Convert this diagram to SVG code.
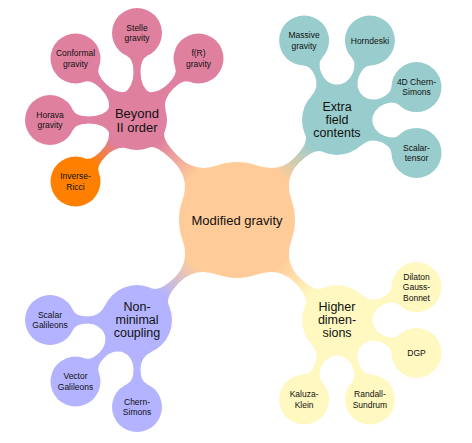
<svg xmlns="http://www.w3.org/2000/svg" xmlns:xlink="http://www.w3.org/1999/xlink" width="472" height="443" viewBox="0 0 472 443">
<style>
.t{font-family:"Liberation Sans",Arial,sans-serif;fill:#111;text-anchor:middle}
.t0{font-size:13px}
.t1{font-size:13px}
.t3{font-size:12.5px}
.t2{font-size:8.5px}
.pk{fill:#DF809F}
.or{fill:#FF8000}
.tl{fill:#99CCCC}
.bl{fill:#B3B3FF}
.yl{fill:#FFF8C0}
.ce{fill:#FFCC99}
</style>
<defs>
<path id="cb30" d="M 26.53,-14 Q 32.07,-3.5 48,-3.5 Q 61.25,-3.5 64.09,-10 L 64.09,10 Q 61.25,3.5 48,3.5 Q 32.07,3.5 26.53,14 Z"/>
<path id="cb35" d="M 31.62,-15 Q 37.08,-3.5 49,-3.5 Q 60.25,-3.5 63.09,-10 L 63.09,10 Q 60.25,3.5 49,3.5 Q 37.08,3.5 31.62,15 Z"/>
<path id="cb35b" d="M 31.62,-15 Q 37.08,-3.5 49.5,-3.5 Q 61.25,-3.5 64.09,-10 L 64.09,10 Q 61.25,3.5 49.5,3.5 Q 37.08,3.5 31.62,15 Z"/>
<path id="cm30" d="M 52.33,-25 Q 62.6,-3.5 86,-3.5 Q 110.55,-3.5 113.51,-11 L 113.51,11 Q 110.55,3.5 86,3.5 Q 62.6,3.5 52.33,25 Z"/>
<path id="cm35" d="M 52.33,-25 Q 62.6,-3.5 84,-3.5 Q 105.44,-3.5 108.54,-12 L 108.54,12 Q 105.44,3.5 84,3.5 Q 62.6,3.5 52.33,25 Z"/>
<linearGradient id="gB" gradientUnits="userSpaceOnUse" x1="62" y1="0" x2="110" y2="0"><stop offset="0" stop-color="#FFCC99"/><stop offset="1" stop-color="#DF809F"/></linearGradient>
<linearGradient id="gE" gradientUnits="userSpaceOnUse" x1="62" y1="0" x2="106" y2="0"><stop offset="0" stop-color="#FFCC99"/><stop offset="1" stop-color="#99CCCC"/></linearGradient>
<linearGradient id="gN" gradientUnits="userSpaceOnUse" x1="62" y1="0" x2="106" y2="0"><stop offset="0" stop-color="#FFCC99"/><stop offset="1" stop-color="#B3B3FF"/></linearGradient>
<linearGradient id="gH" gradientUnits="userSpaceOnUse" x1="62" y1="0" x2="106" y2="0"><stop offset="0" stop-color="#FFCC99"/><stop offset="1" stop-color="#FFF8C0"/></linearGradient>
<linearGradient id="gIR" gradientUnits="userSpaceOnUse" x1="32" y1="0" x2="62" y2="0"><stop offset="0" stop-color="#DF809F"/><stop offset="1" stop-color="#FF8000"/></linearGradient>
</defs>

<g id="connectors">
<use xlink:href="#cm30" transform="translate(237,220) rotate(-135)" fill="url(#gB)"/>
<use xlink:href="#cm35" transform="translate(237,220) rotate(-45)" fill="url(#gE)"/>
<use xlink:href="#cm35" transform="translate(237,220) rotate(135)" fill="url(#gN)"/>
<use xlink:href="#cm35" transform="translate(237,220) rotate(45)" fill="url(#gH)"/>
<use xlink:href="#cb30" transform="translate(137,120) rotate(180)" fill="#DF809F"/>
<use xlink:href="#cb30" transform="translate(137,120) rotate(-135)" fill="#DF809F"/>
<use xlink:href="#cb30" transform="translate(137,120) rotate(-90)" fill="#DF809F"/>
<use xlink:href="#cb30" transform="translate(137,120) rotate(-45)" fill="#DF809F"/>
<use xlink:href="#cb30" transform="translate(137,120) rotate(135)" fill="url(#gIR)"/>
<use xlink:href="#cb35" transform="translate(337,120) rotate(-112.5)" fill="#99CCCC"/>
<use xlink:href="#cb35" transform="translate(337,120) rotate(-67.5)" fill="#99CCCC"/>
<use xlink:href="#cb35" transform="translate(337,120) rotate(-22.5)" fill="#99CCCC"/>
<use xlink:href="#cb35" transform="translate(337,120) rotate(22.5)" fill="#99CCCC"/>
<use xlink:href="#cb35b" transform="translate(137,320) rotate(180)" fill="#B3B3FF"/>
<use xlink:href="#cb35b" transform="translate(137,320) rotate(135)" fill="#B3B3FF"/>
<use xlink:href="#cb35b" transform="translate(137,320) rotate(90)" fill="#B3B3FF"/>
<use xlink:href="#cb35" transform="translate(337,320) rotate(-22.5)" fill="#FFF8C0"/>
<use xlink:href="#cb35" transform="translate(337,320) rotate(22.5)" fill="#FFF8C0"/>
<use xlink:href="#cb35" transform="translate(337,320) rotate(112.5)" fill="#FFF8C0"/>
<use xlink:href="#cb35" transform="translate(337,320) rotate(67.5)" fill="#FFF8C0"/>
</g>

<g id="modified-gravity"><circle class="ce" cx="237" cy="220" r="58"/><text class="t t0" x="237" y="224.5">Modified gravity</text></g>

<g id="beyond-ii-order"><circle class="pk" cx="137" cy="120" r="30"/><text class="t t1" x="137" y="118">Beyond</text><text class="t t1" x="137" y="132">II order</text></g>
<g id="horava"><circle class="pk" cx="50" cy="120" r="25"/><text class="t t2" x="50" y="117.7">Horava</text><text class="t t2" x="50" y="128">gravity</text></g>
<g id="conformal"><circle class="pk" cx="75.5" cy="58.5" r="25"/><text class="t t2" x="75.5" y="56.2">Conformal</text><text class="t t2" x="75.5" y="66.5">gravity</text></g>
<g id="stelle"><circle class="pk" cx="137" cy="33" r="25"/><text class="t t2" x="137" y="30.7">Stelle</text><text class="t t2" x="137" y="41">gravity</text></g>
<g id="fr"><circle class="pk" cx="198.5" cy="58.5" r="25"/><text class="t t2" x="198.5" y="56.2">f(R)</text><text class="t t2" x="198.5" y="66.5">gravity</text></g>
<g id="inverse-ricci"><circle class="or" cx="75.5" cy="181.5" r="25"/><text class="t t2" x="75.5" y="179.2">Inverse-</text><text class="t t2" x="75.5" y="189.5">Ricci</text></g>

<g id="extra-field-contents"><circle class="tl" cx="337" cy="120" r="35"/><text class="t t3" x="337" y="111">Extra</text><text class="t t3" x="337" y="124">field</text><text class="t t3" x="337" y="137">contents</text></g>
<g id="massive"><circle class="tl" cx="304.1" cy="40.5" r="25"/><text class="t t2" x="304.1" y="38.2">Massive</text><text class="t t2" x="304.1" y="48.5">gravity</text></g>
<g id="horndeski"><circle class="tl" cx="369.9" cy="40.5" r="25"/><text class="t t2" x="369.9" y="43.5">Horndeski</text></g>
<g id="cs4d"><circle class="tl" cx="416.5" cy="87.1" r="25"/><text class="t t2" x="416.5" y="84.8">4D Chern-</text><text class="t t2" x="416.5" y="95.1">Simons</text></g>
<g id="scalar-tensor"><circle class="tl" cx="416.5" cy="152.9" r="25"/><text class="t t2" x="416.5" y="150.6">Scalar-</text><text class="t t2" x="416.5" y="160.9">tensor</text></g>

<g id="non-minimal-coupling"><circle class="bl" cx="137" cy="320" r="35"/><text class="t t3" x="137" y="311">Non-</text><text class="t t3" x="137" y="324">minimal</text><text class="t t3" x="137" y="337">coupling</text></g>
<g id="scalar-galileons"><circle class="bl" cx="50" cy="320" r="25"/><text class="t t2" x="50" y="317.7">Scalar</text><text class="t t2" x="50" y="328">Galileons</text></g>
<g id="vector-galileons"><circle class="bl" cx="75.5" cy="381.5" r="25"/><text class="t t2" x="75.5" y="379.2">Vector</text><text class="t t2" x="75.5" y="389.5">Galileons</text></g>
<g id="chern-simons"><circle class="bl" cx="137" cy="407" r="25"/><text class="t t2" x="137" y="404.7">Chern-</text><text class="t t2" x="137" y="415">Simons</text></g>

<g id="higher-dimensions"><circle class="yl" cx="337" cy="320" r="35"/><text class="t t3" x="337" y="311">Higher</text><text class="t t3" x="337" y="324">dimen-</text><text class="t t3" x="337" y="337">sions</text></g>
<g id="dilaton-gauss-bonnet"><circle class="yl" cx="416.5" cy="287.1" r="25"/><text class="t t2" x="416.5" y="279.6">Dilaton</text><text class="t t2" x="416.5" y="290.1">Gauss-</text><text class="t t2" x="416.5" y="300.6">Bonnet</text></g>
<g id="dgp"><circle class="yl" cx="416.5" cy="352.9" r="25"/><text class="t t2" x="416.5" y="355.9">DGP</text></g>
<g id="kaluza-klein"><circle class="yl" cx="304.1" cy="399.5" r="25"/><text class="t t2" x="304.1" y="397.2">Kaluza-</text><text class="t t2" x="304.1" y="407.5">Klein</text></g>
<g id="randall-sundrum"><circle class="yl" cx="369.9" cy="399.5" r="25"/><text class="t t2" x="369.9" y="397.2">Randall-</text><text class="t t2" x="369.9" y="407.5">Sundrum</text></g>
</svg>
